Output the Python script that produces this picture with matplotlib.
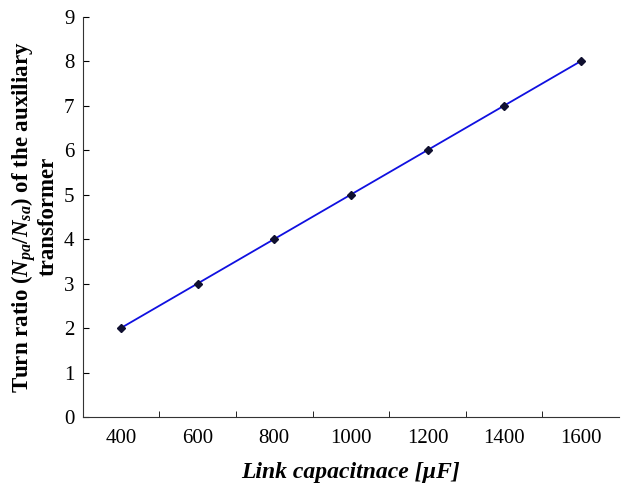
import matplotlib
matplotlib.use("Agg")
import matplotlib.pyplot as plt
import numpy as np

# link capacitance (uF) vs turn ratio
cap = [400, 600, 800, 1000, 1200, 1400, 1600]
ratio = [2, 3, 4, 5, 6, 7, 8]

plt.rcParams['font.family'] = ['Liberation Serif', 'DejaVu Serif']
plt.rcParams['mathtext.fontset'] = 'custom'
plt.rcParams['mathtext.rm'] = 'Liberation Serif'
plt.rcParams['mathtext.it'] = 'Liberation Serif:italic:bold'
plt.rcParams['mathtext.bf'] = 'Liberation Serif:bold'

fig = plt.figure(figsize=(6.21, 4.9), dpi=100)
ax = fig.add_axes([0.133, 0.149, 0.864, 0.817])

ax.plot(cap, ratio, color='#1010e0', lw=1.3)
ax.plot(cap, ratio, ls='none', marker='D', ms=4, color='#101030')

ax.set_xlim(300, 1700)
ax.set_ylim(0, 9)
ax.set_xticks(cap)
ax.set_xticks([500, 700, 900, 1100, 1300, 1500], minor=True)
ax.set_yticks(range(10))
ax.tick_params(axis='x', which='major', length=0, labelsize=15, pad=9)
ax.tick_params(axis='x', which='minor', direction='in', length=4)
ax.tick_params(axis='y', direction='in', length=4, labelsize=15, pad=6)
for s in ['top', 'right']:
    ax.spines[s].set_visible(False)
for s in ['left', 'bottom']:
    ax.spines[s].set_color('#333333')

ax.set_xlabel('Link capacitnace [µF]', fontsize=17, fontweight='bold',
              style='italic', labelpad=10)
ax.set_ylabel('Turn ratio ($N_{pa}$/$N_{sa}$) of the auxiliary\ntransformer',
              fontsize=16.5, fontweight='bold', labelpad=4, linespacing=0.95)

fig.savefig('out.png', dpi=100)
